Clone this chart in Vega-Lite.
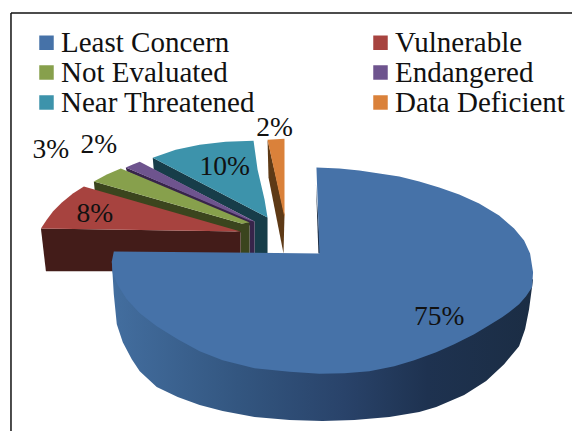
{
"$schema":"https://vega.github.io/schema/vega-lite/v6.json",
"width":573,"height":432,"padding":0,
"autosize":{"type":"fit","contains":"padding"},
"background":"white",
"config":{"view":{"stroke":null}},
"datasets":{
"outlines":[
{"part":"Data Deficient side","seq":1,"px":268,"py":140},{"part":"Data Deficient side","seq":2,"px":269,"py":178},{"part":"Data Deficient side","seq":3,"px":284,"py":254},{"part":"Data Deficient side","seq":4,"px":285,"py":215},
{"part":"Data Deficient","seq":1,"px":268,"py":140},{"part":"Data Deficient","seq":2,"px":285,"py":139},{"part":"Data Deficient","seq":3,"px":285,"py":218},
{"part":"Near Threatened side","seq":1,"px":153,"py":158},{"part":"Near Threatened side","seq":2,"px":154,"py":170},{"part":"Near Threatened side","seq":3,"px":255,"py":222},{"part":"Near Threatened side","seq":4,"px":255,"py":256},{"part":"Near Threatened side","seq":5,"px":268,"py":256},{"part":"Near Threatened side","seq":6,"px":268,"py":218},
{"part":"Near Threatened","seq":1,"px":153,"py":158},{"part":"Near Threatened","seq":2,"px":176,"py":150},{"part":"Near Threatened","seq":3,"px":200,"py":145},{"part":"Near Threatened","seq":4,"px":226,"py":142},{"part":"Near Threatened","seq":5,"px":254,"py":141},{"part":"Near Threatened","seq":6,"px":258,"py":170},{"part":"Near Threatened","seq":7,"px":265,"py":200},{"part":"Near Threatened","seq":8,"px":268,"py":218},
{"part":"Endangered side","seq":1,"px":126,"py":168},{"part":"Endangered side","seq":2,"px":127,"py":172},{"part":"Endangered side","seq":3,"px":250,"py":226},{"part":"Endangered side","seq":4,"px":250,"py":256},{"part":"Endangered side","seq":5,"px":255,"py":256},{"part":"Endangered side","seq":6,"px":255,"py":222},
{"part":"Endangered","seq":1,"px":126,"py":168},{"part":"Endangered","seq":2,"px":133,"py":165},{"part":"Endangered","seq":3,"px":140,"py":162},{"part":"Endangered","seq":4,"px":255,"py":222},{"part":"Endangered","seq":5,"px":250,"py":221},
{"part":"Not Evaluated side","seq":1,"px":94,"py":182},{"part":"Not Evaluated side","seq":2,"px":95,"py":192},{"part":"Not Evaluated side","seq":3,"px":241,"py":233},{"part":"Not Evaluated side","seq":4,"px":241,"py":256},{"part":"Not Evaluated side","seq":5,"px":250,"py":256},{"part":"Not Evaluated side","seq":6,"px":250,"py":223},{"part":"Not Evaluated side","seq":7,"px":242,"py":224},
{"part":"Not Evaluated","seq":1,"px":94,"py":182},{"part":"Not Evaluated","seq":2,"px":107,"py":175},{"part":"Not Evaluated","seq":3,"px":121,"py":169},{"part":"Not Evaluated","seq":4,"px":250,"py":223},{"part":"Not Evaluated","seq":5,"px":242,"py":224},
{"part":"Vulnerable side","seq":1,"px":41,"py":229},{"part":"Vulnerable side","seq":2,"px":241,"py":232},{"part":"Vulnerable side","seq":3,"px":241,"py":272},{"part":"Vulnerable side","seq":4,"px":46,"py":272},
{"part":"Vulnerable","seq":1,"px":41,"py":229},{"part":"Vulnerable","seq":2,"px":47,"py":220},{"part":"Vulnerable","seq":3,"px":53,"py":212},{"part":"Vulnerable","seq":4,"px":62,"py":203},{"part":"Vulnerable","seq":5,"px":73,"py":194},{"part":"Vulnerable","seq":6,"px":84,"py":187},{"part":"Vulnerable","seq":7,"px":241,"py":232},
{"part":"Least Concern inner","seq":1,"px":316.5,"py":185},{"part":"Least Concern inner","seq":2,"px":319,"py":254},{"part":"Least Concern inner","seq":3,"px":321,"py":254}
],
"front":[
{"seq":1,"px":112,"py":262},{"seq":2,"px":114,"py":295},{"seq":3,"px":117,"py":325},{"seq":4,"px":123,"py":343},{"seq":5,"px":132,"py":360},{"seq":6,"px":140,"py":372},{"seq":7,"px":157,"py":388},{"seq":8,"px":178,"py":398},{"seq":9,"px":200,"py":406},{"seq":10,"px":223,"py":412},{"seq":11,"px":255,"py":418},{"seq":12,"px":290,"py":421},{"seq":13,"px":323,"py":422},{"seq":14,"px":355,"py":421},{"seq":15,"px":390,"py":418},{"seq":16,"px":420,"py":413},{"seq":17,"px":437,"py":408},{"seq":18,"px":465,"py":396},{"seq":19,"px":487,"py":382},{"seq":20,"px":505,"py":365},{"seq":21,"px":520,"py":347},{"seq":22,"px":526,"py":330},{"seq":23,"px":530,"py":310},{"seq":24,"px":534,"py":280},{"seq":25,"px":320,"py":300}
],
"top":[
{"part":"Least Concern","seq":1,"px":320,"py":254},{"part":"Least Concern","seq":2,"px":317,"py":168},{"part":"Least Concern","seq":3,"px":340,"py":169},{"part":"Least Concern","seq":4,"px":360,"py":171},{"part":"Least Concern","seq":5,"px":380,"py":174},{"part":"Least Concern","seq":6,"px":400,"py":177},{"part":"Least Concern","seq":7,"px":420,"py":182},{"part":"Least Concern","seq":8,"px":440,"py":188},{"part":"Least Concern","seq":9,"px":460,"py":195},{"part":"Least Concern","seq":10,"px":480,"py":204},{"part":"Least Concern","seq":11,"px":500,"py":216},{"part":"Least Concern","seq":12,"px":515,"py":229},{"part":"Least Concern","seq":13,"px":525,"py":241},{"part":"Least Concern","seq":14,"px":531,"py":254},{"part":"Least Concern","seq":15,"px":534,"py":273},{"part":"Least Concern","seq":16,"px":533,"py":288},{"part":"Least Concern","seq":17,"px":527,"py":297},{"part":"Least Concern","seq":18,"px":520,"py":305},{"part":"Least Concern","seq":19,"px":510,"py":313},{"part":"Least Concern","seq":20,"px":503,"py":318},{"part":"Least Concern","seq":21,"px":490,"py":326},{"part":"Least Concern","seq":22,"px":475,"py":335},{"part":"Least Concern","seq":23,"px":455,"py":345},{"part":"Least Concern","seq":24,"px":437,"py":353},{"part":"Least Concern","seq":25,"px":415,"py":361},{"part":"Least Concern","seq":26,"px":395,"py":367},{"part":"Least Concern","seq":27,"px":370,"py":372},{"part":"Least Concern","seq":28,"px":345,"py":374},{"part":"Least Concern","seq":29,"px":320,"py":374.5},{"part":"Least Concern","seq":30,"px":290,"py":372.5},{"part":"Least Concern","seq":31,"px":255,"py":369},{"part":"Least Concern","seq":32,"px":223,"py":361},{"part":"Least Concern","seq":33,"px":200,"py":352},{"part":"Least Concern","seq":34,"px":178,"py":340},{"part":"Least Concern","seq":35,"px":157,"py":327},{"part":"Least Concern","seq":36,"px":140,"py":314},{"part":"Least Concern","seq":37,"px":127,"py":300},{"part":"Least Concern","seq":38,"px":118,"py":286},{"part":"Least Concern","seq":39,"px":113,"py":274},{"part":"Least Concern","seq":40,"px":112,"py":262},{"part":"Least Concern","seq":41,"px":114,"py":252}
]
},
"layer":[
{
"data":{"values":[{"px":11,"px2":573,"py":13,"py2":13},{"px":11,"px2":11,"py":13,"py2":432}]},
"mark":{"type":"rule","color":"#111111","strokeWidth":1.5},
"encoding":{
"x":{"field":"px","type":"quantitative","scale":{"domain":[0,573]},"axis":null},
"x2":{"field":"px2"},
"y":{"field":"py","type":"quantitative","scale":{"domain":[432,0]},"axis":null},
"y2":{"field":"py2"}
}
},
{
"data":{"name":"outlines"},
"mark":{"type":"line","stroke":"transparent","strokeWidth":0},
"encoding":{
"x":{"field":"px","type":"quantitative","scale":{"domain":[0,573]},"axis":null},
"y":{"field":"py","type":"quantitative","scale":{"domain":[432,0]},"axis":null},
"order":{"field":"seq","type":"quantitative"},
"fill":{"field":"part","type":"nominal",
"scale":{
"domain":["Least Concern","Vulnerable","Not Evaluated","Endangered","Near Threatened","Data Deficient","Vulnerable side","Not Evaluated side","Endangered side","Near Threatened side","Data Deficient side","Least Concern inner"],
"range":["#4672A8","#A7433F","#87A04C","#6E548E","#3D93AB","#DA813A","#431C19","#3B451E","#37244A","#173D49","#5E3A16","#1C2D44"]},
"legend":{
"values":["Least Concern","Not Evaluated","Near Threatened","Vulnerable","Endangered","Data Deficient"],
"title":null,"orient":"none","legendX":32,"legendY":28,"columns":2,"padding":0,
"symbolType":"square","symbolSize":210,"symbolStrokeWidth":0,"symbolOpacity":1,
"labelFont":"Liberation Serif","labelFontSize":29,"labelColor":"#111111","labelOffset":0,"labelLimit":400,
"columnPadding":110,"rowPadding":-0.5
}
}
}
},
{
"data":{"name":"front"},
"mark":{"type":"line","strokeWidth":0,"stroke":"transparent",
"fill":{"gradient":"linear","x1":0,"y1":0,"x2":1,"y2":0,"stops":[{"offset":0,"color":"#436E9F"},{"offset":0.3,"color":"#335680"},{"offset":0.55,"color":"#29436A"},{"offset":0.75,"color":"#1E3250"},{"offset":1,"color":"#1B2D44"}]}},
"encoding":{
"x":{"field":"px","type":"quantitative","scale":{"domain":[0,573]},"axis":null},
"y":{"field":"py","type":"quantitative","scale":{"domain":[432,0]},"axis":null},
"order":{"field":"seq","type":"quantitative"}
}
},
{
"data":{"name":"top"},
"mark":{"type":"line","stroke":"transparent","strokeWidth":0},
"encoding":{
"x":{"field":"px","type":"quantitative","scale":{"domain":[0,573]},"axis":null},
"y":{"field":"py","type":"quantitative","scale":{"domain":[432,0]},"axis":null},
"order":{"field":"seq","type":"quantitative"},
"fill":{"field":"part","type":"nominal"}
}
},
{
"data":{"values":[
{"share":0.75,"px":440,"py":326},
{"share":0.08,"px":95,"py":223},
{"share":0.03,"px":51,"py":158},
{"share":0.02,"px":99,"py":153},
{"share":0.10,"px":225,"py":175},
{"share":0.02,"px":275,"py":136}
]},
"mark":{"type":"text","font":"Liberation Serif","fontSize":27.5,"color":"#111111","align":"center","baseline":"alphabetic"},
"encoding":{
"x":{"field":"px","type":"quantitative","scale":{"domain":[0,573]},"axis":null},
"y":{"field":"py","type":"quantitative","scale":{"domain":[432,0]},"axis":null},
"text":{"field":"share","type":"quantitative","format":".0%"}
}
}
]
}
